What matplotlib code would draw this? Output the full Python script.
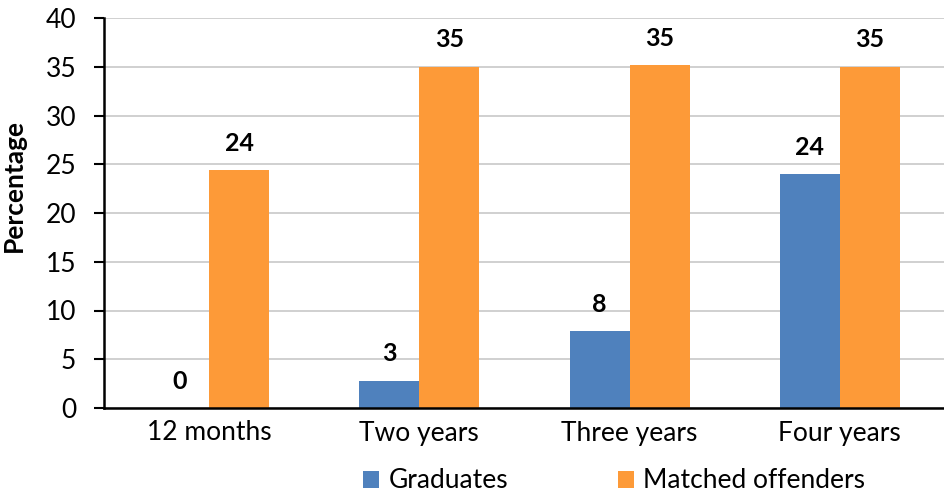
import matplotlib
matplotlib.use("Agg")
import matplotlib.pyplot as plt
import numpy as np

categories = ["12 months", "Two years", "Three years", "Four years"]
graduates = [0.0, 2.8, 7.9, 24.0]
matched = [24.4, 35.0, 35.2, 35.0]
graduates_labels = ["0", "3", "8", "24"]
matched_labels = ["24", "35", "35", "35"]
yticks = [0, 5, 10, 15, 20, 25, 30, 35, 40]

plt.rcParams['font.family'] = ['Lato', 'DejaVu Sans']

fig = plt.figure(figsize=(9.45, 4.96), dpi=100)
ax = fig.add_axes([104/945, 1-408/496, 1-104/945, (408-18)/496])

x = np.arange(len(categories))
w = 0.285
blue = '#4F81BD'
orange = '#FD9A38'
b1 = ax.bar(x - w/2, graduates, w, color=blue, label='Graduates', zorder=3)
b2 = ax.bar(x + w/2, matched, w, color=orange, label='Matched offenders', zorder=3)

for xi, v, t in zip(x - w/2, graduates, graduates_labels):
    ax.annotate(t, (xi, v), xytext=(0, 11), textcoords='offset points',
                ha='center', va='bottom', fontsize=18, fontweight='bold')
for xi, v, t in zip(x + w/2, matched, matched_labels):
    ax.annotate(t, (xi, v), xytext=(0, 11), textcoords='offset points',
                ha='center', va='bottom', fontsize=18, fontweight='bold')

ax.set_xlim(-0.5, len(categories) - 0.5)
ax.set_ylim(0, 40)
ax.set_yticks(yticks)
ax.set_xticks(x)
ax.set_xticklabels(categories)
ax.tick_params(axis='y', labelsize=19, length=7, width=1.5, pad=13)
ax.tick_params(axis='x', labelsize=19, length=0, pad=9)
ax.yaxis.grid(True, color='#C8C8C8', linewidth=1.2, zorder=0)
ax.set_axisbelow(True)
for s in ['top', 'right']:
    ax.spines[s].set_visible(False)
for s in ['left', 'bottom']:
    ax.spines[s].set_linewidth(1.8)
    ax.spines[s].set_color('black')
    ax.spines[s].set_zorder(4)

fig.text(14/945, 1-186/496, 'Percentage', rotation=90, ha='center', va='center',
         fontsize=19, fontweight='bold')

leg = fig.legend(handles=[b1, b2], loc='center', bbox_to_anchor=(614/945, 1-481/496),
                 ncol=2, frameon=False, fontsize=19, handlelength=0.62,
                 handleheight=0.62, columnspacing=4.15, handletextpad=0.35,
                 borderaxespad=0, borderpad=0)

fig.savefig('out.png', dpi=100)
